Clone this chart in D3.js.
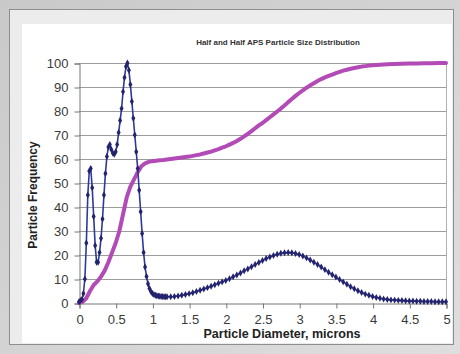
<!DOCTYPE html>
<html>
<head>
<meta charset="utf-8">
<script src="https://cdn.jsdelivr.net/npm/d3@7"></script>
<style>
  html, body { margin: 0; padding: 0; background: #d6d6d6; }
  svg { display: block; font-family: "Liberation Sans", Arial, sans-serif; }
</style>
</head>
<body>
<svg id="chart" width="460" height="354"></svg>
<script>
// frequency series (blue, with markers)
const freqX = [
  0, 0.02, 0.04, 0.06, 0.08, 0.10, 0.12, 0.14, 0.16, 0.18, 0.20, 0.22, 0.24, 0.26, 0.28,
  0.30, 0.32, 0.34, 0.36, 0.38, 0.40, 0.42, 0.44, 0.46, 0.48, 0.50, 0.52, 0.54, 0.56, 0.58,
  0.60, 0.62, 0.64, 0.66, 0.68, 0.70, 0.72, 0.74, 0.76, 0.78, 0.80, 0.82, 0.84, 0.86, 0.88,
  0.90, 0.92, 0.94, 0.96, 0.98, 1.00, 1.02, 1.04, 1.06, 1.08, 1.10, 1.12, 1.14, 1.16, 1.18,
  1.20, 1.25, 1.30, 1.35, 1.40, 1.45, 1.50, 1.55, 1.60, 1.65, 1.70, 1.75, 1.80, 1.85, 1.90,
  1.95, 2.00, 2.05, 2.10, 2.15, 2.20, 2.25, 2.30, 2.35, 2.40, 2.45, 2.50, 2.55, 2.60, 2.65,
  2.70, 2.75, 2.80, 2.85, 2.90, 2.95, 3.00, 3.05, 3.10, 3.15, 3.20, 3.25, 3.30, 3.35, 3.40,
  3.45, 3.50, 3.55, 3.60, 3.65, 3.70, 3.75, 3.80, 3.85, 3.90, 3.95, 4.00, 4.05, 4.10, 4.15,
  4.20, 4.25, 4.30, 4.35, 4.40, 4.45, 4.50, 4.55, 4.60, 4.65, 4.70, 4.75, 4.80, 4.85, 4.90,
  4.95, 5.00
];
const freqY = [
  0.5, 1, 1.5, 4, 10, 25, 45, 55, 56, 48, 36, 24, 17, 17, 21,
  27, 35, 45, 54, 61, 65, 66, 64, 62.5, 62, 63, 66, 71, 76, 81,
  88, 94, 98.5, 100, 97, 91, 84, 77, 70, 63, 56, 47, 38, 29, 21,
  15, 11, 8, 6, 4.8, 4, 3.5, 3.2, 3.0, 2.9, 2.8, 2.7, 2.7, 2.6, 2.6,
  2.6, 2.6, 2.7, 2.9, 3.2, 3.5, 3.9, 4.3, 4.8, 5.3, 5.8, 6.4, 7.0, 7.6, 8.2,
  8.8, 9.4, 10.1, 10.9, 11.7, 12.5, 13.4, 14.2, 15.1, 16.0, 16.9, 17.7, 18.5, 19.2, 19.8,
  20.3, 20.7, 20.9, 21.0, 20.9, 20.6, 20.2, 19.6, 18.8, 17.9, 17.0, 16.0, 15.0, 13.9, 12.8,
  11.8, 10.8, 9.8, 8.8, 7.8, 6.8, 5.9, 5.1, 4.4, 3.7, 3.2, 2.7, 2.3, 2.0, 1.7,
  1.5, 1.3, 1.2, 1.1, 1.0, 0.9, 0.8, 0.8, 0.7, 0.7, 0.6, 0.6, 0.6, 0.5, 0.5,
  0.5, 0.5
];

// cumulative series (magenta)
const cumX = [
  0, 0.05, 0.10, 0.15, 0.20, 0.25, 0.30, 0.35, 0.40, 0.45, 0.50, 0.55, 0.60, 0.65, 0.70,
  0.75, 0.80, 0.85, 0.90, 0.95, 1.00, 1.05, 1.10, 1.15, 1.20, 1.25, 1.30, 1.35, 1.40, 1.45,
  1.50, 1.55, 1.60, 1.65, 1.70, 1.75, 1.80, 1.85, 1.90, 1.95, 2.00, 2.05, 2.10, 2.15, 2.20,
  2.25, 2.30, 2.35, 2.40, 2.45, 2.50, 2.55, 2.60, 2.65, 2.70, 2.75, 2.80, 2.85, 2.90, 2.95,
  3.00, 3.05, 3.10, 3.15, 3.20, 3.25, 3.30, 3.35, 3.40, 3.45, 3.50, 3.55, 3.60, 3.65, 3.70,
  3.75, 3.80, 3.85, 3.90, 3.95, 4.00, 4.10, 4.20, 4.30, 4.40, 4.50, 4.60, 4.70, 4.80, 4.90, 5.00
];
const cumY = [
  0, 0.5, 2, 5, 7.5, 9, 11, 13.5, 17, 21, 25, 30, 37, 44, 48.5,
  51.5, 54.5, 57, 58.2, 58.8, 59.1, 59.3, 59.5, 59.6, 59.8, 60, 60.2, 60.4, 60.6, 60.8,
  61.0, 61.3, 61.6, 61.9, 62.3, 62.7, 63.1, 63.6, 64.1, 64.7, 65.3, 66.0, 66.7, 67.5, 68.4,
  69.4, 70.5, 71.6, 72.8, 74.0, 75.0, 76.2, 77.4, 78.6, 79.8, 81.0, 82.3, 83.7, 85.0, 86.3,
  87.5, 88.6, 89.7, 90.7, 91.6, 92.5, 93.3, 94.0, 94.6, 95.2, 95.8, 96.3, 96.8, 97.2, 97.6,
  97.9, 98.2, 98.5, 98.7, 98.9, 99.1, 99.3, 99.5, 99.6, 99.7, 99.8, 99.8, 99.9, 99.9, 100, 100
];

const xTicks = [0, 0.5, 1, 1.5, 2, 2.5, 3, 3.5, 4, 4.5, 5];
const yTicks = [0, 10, 20, 30, 40, 50, 60, 70, 80, 90, 100];

const title = "Half and Half APS Particle Size Distribution";
const xTitle = "Particle Diameter, microns";
const yTitle = "Particle Frequency";

const svg = d3.select("#chart");
const W = 460, H = 354;
const plot = { left: 79, right: 446, top: 63, bottom: 303 };

// photographed slide background
const defs = svg.append("defs");
const bg = defs.append("linearGradient").attr("id", "bg")
  .attr("x1", 0).attr("y1", 0).attr("x2", 1).attr("y2", 1);
bg.append("stop").attr("offset", 0).attr("stop-color", "#c9c9c9");
bg.append("stop").attr("offset", 1).attr("stop-color", "#dedede");
svg.append("rect").attr("width", W).attr("height", H).attr("fill", "url(#bg)");
svg.append("rect").attr("x", 9.5).attr("y", 9.5).attr("width", 444).attr("height", 335)
  .attr("fill", "#ececec").attr("stroke", "#8e8e8e");
svg.append("rect").attr("x", 22).attr("y", 24).attr("width", 430).attr("height", 319)
  .attr("fill", "#ffffff");

const x = d3.scaleLinear().domain([0, 5]).range([plot.left, plot.right]);
const y = d3.scaleLinear().domain([0, 100]).range([plot.bottom, plot.top]);

// gridlines
svg.append("g")
  .selectAll("line")
  .data(yTicks.filter(d => d > 0))
  .join("line")
  .attr("x1", plot.left).attr("x2", plot.right)
  .attr("y1", d => Math.round(y(d)) + 0.5).attr("y2", d => Math.round(y(d)) + 0.5)
  .attr("stroke", "#9c9c9c");

// right border of plot area
svg.append("line")
  .attr("x1", plot.right + 0.5).attr("x2", plot.right + 0.5)
  .attr("y1", plot.top).attr("y2", plot.bottom)
  .attr("stroke", "#b0b0b0");

// axes
const yAxis = svg.append("g")
  .attr("transform", `translate(${plot.left + 0.5},0.5)`)
  .call(d3.axisLeft(y).tickValues(yTicks).tickSize(5).tickPadding(6).tickFormat(d3.format("d")));
const xAxis = svg.append("g")
  .attr("transform", `translate(0.5,${Math.round(plot.bottom) + 0.5})`)
  .call(d3.axisBottom(x).tickValues(xTicks).tickSize(5).tickPadding(6).tickFormat(d => String(d)));

[xAxis, yAxis].forEach(a => {
  a.select(".domain").attr("stroke", "#777");
  a.selectAll(".tick line").attr("stroke", "#777");
  a.selectAll("text")
    .attr("fill", "#3a3a3a")
    .style("font-size", "13px")
    .style("font-family", "Liberation Sans, Arial, sans-serif");
});

// cumulative line
svg.append("path")
  .datum(cumX.map((d, i) => [d, cumY[i]]))
  .attr("fill", "none")
  .attr("stroke", "#b24bb6")
  .attr("stroke-width", 4)
  .attr("stroke-linejoin", "round")
  .attr("stroke-linecap", "round")
  .attr("d", d3.line().x(d => x(d[0])).y(d => y(d[1])));

// frequency line + markers
const freq = freqX.map((d, i) => [d, freqY[i]]);
svg.append("path")
  .datum(freq)
  .attr("fill", "none")
  .attr("stroke", "#2e3a9a")
  .attr("stroke-width", 1.6)
  .attr("d", d3.line().x(d => x(d[0])).y(d => y(d[1])));

svg.append("g")
  .attr("fill", "#23236e")
  .selectAll("path")
  .data(freq)
  .join("path")
  .attr("transform", d => `translate(${x(d[0])},${y(d[1])})`)
  .attr("d", d3.symbol(d3.symbolDiamond, 14));

// titles
svg.append("text")
  .attr("x", 278).attr("y", 45)
  .attr("text-anchor", "middle")
  .attr("font-size", 8).attr("font-weight", "bold").attr("fill", "#333")
  .text(title);

svg.append("text")
  .attr("x", 282).attr("y", 338)
  .attr("text-anchor", "middle")
  .attr("font-size", 12.5).attr("font-weight", "bold").attr("fill", "#222")
  .text(xTitle);

svg.append("text")
  .attr("transform", "translate(37,195) rotate(-90)")
  .attr("text-anchor", "middle")
  .attr("font-size", 12).attr("font-weight", "bold").attr("fill", "#222")
  .text(yTitle);
</script>
</body>
</html>
